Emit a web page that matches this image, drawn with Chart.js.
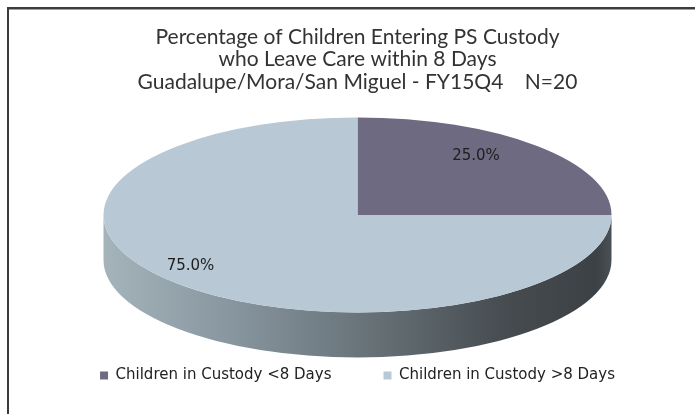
<!DOCTYPE html>
<html>
<head>
<meta charset="utf-8">
<script src="https://cdn.jsdelivr.net/npm/chart.js@4.4.1/dist/chart.umd.min.js"></script>
<style>
  html, body { margin: 0; padding: 0; background: #ffffff; }
  #wrap { width: 695px; height: 414px; position: relative; }
</style>
</head>
<body>
<div id="wrap"><canvas id="c" width="695" height="414"></canvas></div>
<script>
// ---- data ----
const categories = ['Children in Custody <8 Days', 'Children in Custody >8 Days'];
const values = [25.0, 75.0];
const titleLines = [
  'Percentage of Children Entering PS Custody',
  'who Leave Care within 8 Days',
  'Guadalupe/Mora/San Miguel - FY15Q4    N=20'
];

// ---- styles ----
const sliceColors = ['#6e6a81', '#b8c8d4'];
const pieStyle = { rx: 254, ry: 97.5, depth: 45, labelRadius: [0.66, 0.93], labelShiftY: -13 };

const frame = {
  id: 'frame',
  beforeDraw(chart) {
    const ctx = chart.ctx;
    ctx.save();
    ctx.fillStyle = '#ffffff';
    ctx.fillRect(0, 0, chart.width, chart.height);
    ctx.fillStyle = '#3c3c3c';
    ctx.fillRect(7, 7, chart.width - 7, 2);
    ctx.fillRect(7, 7, 2, chart.height - 7);
    ctx.fillStyle = '#a0a0a0';
    ctx.fillRect(9, 9, chart.width - 9, 1);
    ctx.restore();
  }
};

function pieGeom(chart) {
  const area = chart.chartArea;
  return {
    cx: (area.left + area.right) / 2,
    cy: area.top + pieStyle.ry,
    rx: pieStyle.rx,
    ry: pieStyle.ry,
    depth: pieStyle.depth
  };
}

const pie3d = {
  id: 'pie3d',
  beforeDatasetsDraw(chart) {
    const meta = chart.getDatasetMeta(0);
    const arcs = meta.data;
    if (!arcs.length) return;
    const g = pieGeom(chart);
    const ctx = chart.ctx;
    // side walls (front half: canvas angles 0..PI)
    ctx.save();
    const grad = ctx.createLinearGradient(g.cx - g.rx, 0, g.cx + g.rx, 0);
    grad.addColorStop(0, '#a5b3ba');
    grad.addColorStop(0.25, '#8896a0');
    grad.addColorStop(0.5, '#6a757b');
    grad.addColorStop(0.8, '#454b4f');
    grad.addColorStop(0.97, '#3b4144');
    grad.addColorStop(1, '#4a5155');
    arcs.forEach((arc) => {
      const s = arc.startAngle, e = arc.endAngle;
      for (let k = -1; k <= 1; k++) {
        const sh = 2 * Math.PI * k;
        const lo = Math.max(s + sh, 0), hi = Math.min(e + sh, Math.PI);
        if (hi > lo) {
          ctx.beginPath();
          ctx.ellipse(g.cx, g.cy + g.depth, g.rx, g.ry, 0, lo, hi, false);
          ctx.ellipse(g.cx, g.cy, g.rx, g.ry, 0, hi, lo, true);
          ctx.closePath();
          ctx.fillStyle = grad;
          ctx.fill();
        }
      }
    });
    ctx.restore();
    // squash the circular pie into the top-face ellipse
    const a0 = arcs[0];
    ctx.save();
    ctx.translate(g.cx, g.cy);
    ctx.scale(g.rx / a0.outerRadius, g.ry / a0.outerRadius);
    ctx.translate(-a0.x, -a0.y);
  },
  afterDatasetsDraw(chart) {
    const ctx = chart.ctx;
    ctx.restore();
    const meta = chart.getDatasetMeta(0);
    const g = pieGeom(chart);
    const data = chart.data.datasets[0].data;
    const total = data.reduce((a, b) => a + b, 0);
    ctx.save();
    ctx.font = '15px "DejaVu Sans", Verdana, sans-serif';
    ctx.fillStyle = '#1e1e1e';
    ctx.textAlign = 'center';
    ctx.textBaseline = 'middle';
    meta.data.forEach((arc, i) => {
      const mid = (arc.startAngle + arc.endAngle) / 2;
      const f = pieStyle.labelRadius[i];
      const x = g.cx + g.rx * f * Math.cos(mid);
      const y = g.cy + g.ry * f * Math.sin(mid) + pieStyle.labelShiftY;
      ctx.fillText((data[i] / total * 100).toFixed(1) + '%', x, y);
    });
    ctx.restore();
  }
};

new Chart(document.getElementById('c'), {
  type: 'pie',
  data: {
    labels: categories,
    datasets: [{
      data: values,
      backgroundColor: sliceColors,
      borderWidth: 0,
      clip: false
    }]
  },
  options: {
    responsive: false,
    animation: false,
    events: [],
    rotation: 0,
    layout: { padding: { left: 20, right: 0, top: 0, bottom: 21 } },
    plugins: {
      title: {
        display: true,
        text: titleLines,
        color: '#333333',
        font: { family: 'Lato, "Open Sans", sans-serif', size: 21, weight: 'normal', lineHeight: 1.07 },
        padding: { top: 26, bottom: 24 }
      },
      legend: {
        display: true,
        position: 'bottom',
        labels: {
          boxWidth: 8,
          boxHeight: 8,
          padding: 52,
          color: '#222222',
          font: { family: '"DejaVu Sans", Verdana, sans-serif', size: 15 }
        }
      },
      tooltip: { enabled: false }
    }
  },
  plugins: [frame, pie3d]
});
</script>
</body>
</html>
